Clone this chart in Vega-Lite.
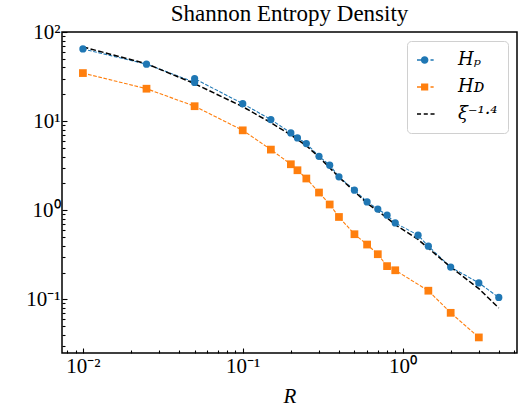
{
  "$schema": "https://vega.github.io/schema/vega-lite/v6.json",
  "width": 455,
  "height": 321,
  "autosize": {"type": "none"},
  "padding": {"left": 62, "top": 32, "right": 2, "bottom": 60},
  "title": {"text": "Shannon Entropy Density", "font": "Liberation Serif", "fontSize": 23, "fontWeight": "normal", "color": "black", "offset": 0, "dy": 5, "frame": "group"},
  "datasets": {
    "pts": [
      {"R": 0.01, "H": 64.5, "series": "Hp"},
      {"R": 0.025, "H": 43.6, "series": "Hp"},
      {"R": 0.05, "H": 27.2, "series": "Hp"},
      {"R": 0.05, "H": 29.9, "series": "Hp"},
      {"R": 0.1, "H": 15.7, "series": "Hp"},
      {"R": 0.15, "H": 10.4, "series": "Hp"},
      {"R": 0.2, "H": 7.36, "series": "Hp"},
      {"R": 0.22, "H": 6.47, "series": "Hp"},
      {"R": 0.25, "H": 5.6, "series": "Hp"},
      {"R": 0.3, "H": 4.03, "series": "Hp"},
      {"R": 0.35, "H": 3.2, "series": "Hp"},
      {"R": 0.4, "H": 2.37, "series": "Hp"},
      {"R": 0.5, "H": 1.68, "series": "Hp"},
      {"R": 0.6, "H": 1.24, "series": "Hp"},
      {"R": 0.7, "H": 1.03, "series": "Hp"},
      {"R": 0.8, "H": 0.88, "series": "Hp"},
      {"R": 0.9, "H": 0.72, "series": "Hp"},
      {"R": 1.25, "H": 0.525, "series": "Hp"},
      {"R": 1.45, "H": 0.395, "series": "Hp"},
      {"R": 2.0, "H": 0.23, "series": "Hp"},
      {"R": 3.0, "H": 0.153, "series": "Hp"},
      {"R": 4.0, "H": 0.105, "series": "Hp"},
      {"R": 0.01, "H": 34.6, "series": "HD"},
      {"R": 0.025, "H": 23.1, "series": "HD"},
      {"R": 0.05, "H": 14.7, "series": "HD"},
      {"R": 0.1, "H": 7.88, "series": "HD"},
      {"R": 0.15, "H": 4.79, "series": "HD"},
      {"R": 0.2, "H": 3.28, "series": "HD"},
      {"R": 0.22, "H": 2.81, "series": "HD"},
      {"R": 0.25, "H": 2.27, "series": "HD"},
      {"R": 0.3, "H": 1.58, "series": "HD"},
      {"R": 0.35, "H": 1.16, "series": "HD"},
      {"R": 0.4, "H": 0.84, "series": "HD"},
      {"R": 0.5, "H": 0.538, "series": "HD"},
      {"R": 0.6, "H": 0.412, "series": "HD"},
      {"R": 0.7, "H": 0.321, "series": "HD"},
      {"R": 0.8, "H": 0.236, "series": "HD"},
      {"R": 0.9, "H": 0.212, "series": "HD"},
      {"R": 1.45, "H": 0.125, "series": "HD"},
      {"R": 2.0, "H": 0.0706, "series": "HD"},
      {"R": 3.0, "H": 0.0374, "series": "HD"},
      {"R": 0.01, "H": 68, "series": "xi"},
      {"R": 0.025, "H": 44, "series": "xi"},
      {"R": 0.05, "H": 26.3, "series": "xi"},
      {"R": 0.1, "H": 14.5, "series": "xi"},
      {"R": 0.15, "H": 9.6, "series": "xi"},
      {"R": 0.2, "H": 7.0, "series": "xi"},
      {"R": 0.25, "H": 5.3, "series": "xi"},
      {"R": 0.3, "H": 3.95, "series": "xi"},
      {"R": 0.4, "H": 2.35, "series": "xi"},
      {"R": 0.5, "H": 1.62, "series": "xi"},
      {"R": 0.6, "H": 1.2, "series": "xi"},
      {"R": 0.7, "H": 0.98, "series": "xi"},
      {"R": 0.8, "H": 0.82, "series": "xi"},
      {"R": 0.9, "H": 0.69, "series": "xi"},
      {"R": 1.25, "H": 0.47, "series": "xi"},
      {"R": 1.45, "H": 0.375, "series": "xi"},
      {"R": 2.0, "H": 0.23, "series": "xi"},
      {"R": 3.0, "H": 0.132, "series": "xi"},
      {"R": 4.0, "H": 0.08, "series": "xi"}
    ]
  },
  "data": {"name": "pts"},
  "encoding": {
    "x": {
      "field": "R", "type": "quantitative",
      "scale": {"type": "log", "domain": [0.0074, 5.2], "nice": false},
      "axis": {
        "title": "R", "titleFont": "Liberation Serif", "titleFontStyle": "italic", "titleFontSize": 21, "titleFontWeight": "normal", "titleColor": "black", "titlePadding": 9,
        "values": [0.008, 0.009, 0.01, 0.02, 0.03, 0.04, 0.05, 0.06, 0.07, 0.08, 0.09, 0.1, 0.2, 0.3, 0.4, 0.5, 0.6, 0.7, 0.8, 0.9, 1, 2, 3, 4, 5],
        "labelExpr": "abs(log(datum.value)/LN10 - round(log(datum.value)/LN10)) < 1e-6 ? (round(log(datum.value)/LN10) == -2 ? '10⁻²' : round(log(datum.value)/LN10) == -1 ? '10⁻¹' : round(log(datum.value)/LN10) == 0 ? '10⁰' : '10¹') : ''",
        "tickSize": {"condition": {"test": "abs(log(datum.value)/LN10 - round(log(datum.value)/LN10)) < 1e-6", "value": -5}, "value": -3},
        "labelPadding": 7
      }
    },
    "y": {
      "field": "H", "type": "quantitative",
      "scale": {"type": "log", "domain": [0.025, 100], "nice": false},
      "axis": {
        "title": null,
        "values": [0.03, 0.04, 0.05, 0.06, 0.07, 0.08, 0.09, 0.1, 0.2, 0.3, 0.4, 0.5, 0.6, 0.7, 0.8, 0.9, 1, 2, 3, 4, 5, 6, 7, 8, 9, 10, 20, 30, 40, 50, 60, 70, 80, 90, 100],
        "labelExpr": "abs(log(datum.value)/LN10 - round(log(datum.value)/LN10)) < 1e-6 ? (round(log(datum.value)/LN10) == -1 ? '10⁻¹' : round(log(datum.value)/LN10) == 0 ? '10⁰' : round(log(datum.value)/LN10) == 1 ? '10¹' : '10²') : ''",
        "tickSize": {"condition": {"test": "abs(log(datum.value)/LN10 - round(log(datum.value)/LN10)) < 1e-6", "value": -5}, "value": -3},
        "labelPadding": 7
      }
    }
  },
  "layer": [
    {
      "transform": [{"filter": "datum.series != 'xi'"}],
      "mark": {"type": "line", "strokeWidth": 1.1, "strokeDash": [3.7, 1.6]},
      "encoding": {
        "stroke": {"field": "series", "type": "nominal", "scale": {"domain": ["Hp", "HD"], "range": ["#1f77b4", "#ff7f0e"]}, "legend": null}
      }
    },
    {
      "transform": [{"filter": "datum.series == 'xi'"}],
      "mark": {"type": "line", "strokeWidth": 1.5, "strokeDash": [5.5, 2.4], "color": "black"},
      "encoding": {}
    },
    {
      "transform": [{"filter": "datum.series == 'Hp'"}],
      "mark": {"type": "point", "shape": "circle", "filled": true, "opacity": 1, "size": 52, "color": "#1f77b4"},
      "encoding": {}
    },
    {
      "transform": [{"filter": "datum.series == 'HD'"}],
      "mark": {"type": "point", "shape": "square", "filled": true, "opacity": 1, "size": 60, "color": "#ff7f0e"},
      "encoding": {}
    },
    {
      "transform": [{"filter": "false"}],
      "mark": {"type": "point", "filled": true, "opacity": 1},
      "encoding": {
        "color": {"field": "series", "type": "nominal", "scale": {"domain": ["Hp", "HD", "xi"], "range": ["#1f77b4", "#ff7f0e", "black"]},
          "legend": {
            "title": null, "orient": "top-right", "offset": 9, "padding": 10, "cornerRadius": 4,
            "strokeColor": "#d0d0d0", "fillColor": "white", "rowPadding": 9,
            "symbolSize": 324, "symbolStrokeWidth": 0, "symbolOpacity": 1,
            "labelFont": "DejaVu Serif", "labelFontStyle": "italic", "labelFontSize": 18, "labelColor": "black", "labelOffset": 23,
            "labelExpr": "datum.value == 'Hp' ? 'Hₚ' : datum.value == 'HD' ? 'Hᴅ' : 'ξ⁻¹·⁴'"
          }
        },
        "shape": {"field": "series", "type": "nominal", "scale": {"domain": ["Hp", "HD", "xi"], "range": [
          "M-1,-0.08H-0.3V0.08H-1Z M0.27,0A0.42,0.42 0 1,1 -0.57,0A0.42,0.42 0 1,1 0.27,0Z M0.5,-0.08H0.85V0.08H0.5Z",
          "M-1,-0.08H-0.3V0.08H-1Z M-0.55,-0.4H0.25V0.4H-0.55Z M0.5,-0.08H0.85V0.08H0.5Z",
          "M-1,-0.08H-0.55V0.08H-1Z M-0.25,-0.08H0.2V0.08H-0.25Z M0.5,-0.08H0.95V0.08H0.5Z"
        ]}, "legend": {"title": null}}
      }
    }
  ],
  "config": {
    "view": {"stroke": "black", "strokeWidth": 1.5},
    "axis": {
      "domain": false, "grid": false, "tickColor": "black", "tickWidth": 1.1,
      "labelFont": "Liberation Serif", "labelFontSize": 21, "labelColor": "black"
    }
  }
}
